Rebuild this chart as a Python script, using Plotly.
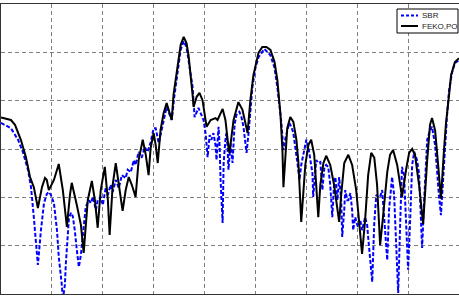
import plotly.graph_objects as go

# FEKO,PO (black solid): angle (deg), level (dB)
feko_theta = [0, 3.9, 5.5, 7.8, 9.8, 11.4, 12.9, 14.5, 16.1, 17.3, 18.0, 18.8, 20.8, 22.7, 24.3, 25.9, 27.1, 27.8,
              29.8, 31.4, 32.5, 34.1, 35.7, 36.9, 38.0, 39.2, 40.8, 42.0, 42.7, 43.9, 45.1, 46.7, 47.8, 49.0, 50.2,
              51.4, 52.9, 54.1, 55.7, 56.9, 58.0, 58.8, 60.0, 60.8, 61.6, 62.7, 63.9, 65.1, 65.9, 67.1, 67.8, 68.6,
              69.8, 70.6, 71.8, 72.9, 73.7, 74.5, 75.3, 75.7, 76.9, 78.0, 79.2, 80.8, 82.4, 84.3, 85.1, 87.1, 88.2,
              89.4, 89.8, 91.4, 93.3, 94.9, 96.9, 98.0, 99.2, 101.2, 102.7, 104.3, 105.9, 107.5, 108.6, 109.8,
              110.6, 111.0, 111.8, 112.5, 113.7, 114.9, 116.1, 116.9, 118.0, 118.8, 119.6, 120.8, 121.9, 123.1,
              123.9, 124.7, 125.5, 126.7, 127.8, 129.4, 130.9, 132.2, 132.9, 133.7, 134.9, 136.5, 138.0, 139.6,
              140.8, 141.9, 143.1, 144.3, 145.5, 146.7, 147.8, 149.0, 150.2, 151.8, 152.9, 154.1, 155.7, 157.6,
              159.2, 160.4, 161.6, 162.7, 164.3, 165.9, 167.5, 168.6, 169.4, 170.6, 171.8, 172.9, 174.1, 174.9,
              176.1, 176.9, 178.4, 180]
feko_db = [-13.5, -14.0, -15.0, -18.1, -21.7, -25.8, -27.9, -32.2, -27.9, -26.0, -26.4, -28.5, -26.4, -23.1, -28.5,
           -36.1, -29.5, -27.0, -31.6, -35.7, -41.5, -30.6, -26.6, -30.6, -36.3, -28.5, -23.7, -30.6, -37.8, -27.4,
           -22.9, -28.5, -32.8, -28.5, -25.8, -27.4, -29.9, -22.3, -18.1, -21.2, -25.4, -19.8, -16.7, -19.2, -22.9,
           -16.1, -12.6, -10.5, -11.9, -14.0, -8.8, -5.7, -1.2, 1.5, 3.2, 1.9, -0.6, -4.3, -8.8, -11.3, -9.2, -8.4,
           -9.9, -15.4, -14.0, -13.6, -14.0, -11.7, -14.0, -19.6, -20.8, -14.0, -10.3, -11.9, -16.7, -9.9, -4.7,
           -0.1, 1.1, 1.1, 0.5, -2.0, -5.7, -12.6, -20.2, -27.9, -20.2, -15.7, -13.4, -14.4, -18.1, -22.9, -35.1,
           -28.5, -23.3, -19.2, -18.1, -21.2, -27.4, -34.1, -27.4, -22.9, -21.4, -23.3, -27.4, -32.6, -35.1, -29.5,
           -22.9, -21.2, -23.3, -28.5, -35.7, -41.7, -34.7, -25.4, -20.8, -21.8, -27.4, -39.9, -33.7, -24.8, -21.2,
           -20.2, -23.3, -29.9, -24.3, -20.8, -20.0, -21.2, -27.4, -35.5, -22.3, -15.0, -13.6, -16.1, -23.3, -30.3,
           -20.2, -14.6, -8.8, -4.7, -2.0, -1.2]

# SBR (blue dashed)
sbr_theta = [0, 3.9, 6.7, 8.6, 10.6, 11.8, 12.9, 13.7, 14.5, 15.7, 16.9, 18.0, 18.8, 19.6, 20.8, 22.0, 22.7, 23.9,
             24.3, 25.1, 25.5, 26.7, 27.5, 28.2, 29.0, 29.8, 30.6, 31.4, 32.2, 33.3, 34.5, 35.3, 36.1, 37.3, 38.0,
             39.2, 40.0, 41.2, 42.0, 43.1, 43.9, 45.1, 46.3, 47.5, 49.0, 49.8, 51.0, 52.2, 52.9, 54.1, 55.3, 56.5,
             57.6, 58.8, 60.0, 60.8, 62.0, 62.7, 63.9, 65.1, 65.9, 67.1, 68.2, 69.4, 70.6, 71.8, 72.9, 73.7, 74.5,
             75.3, 76.1, 76.9, 77.6, 78.8, 79.6, 80.4, 81.2, 82.0, 82.7, 83.5, 84.3, 84.7, 85.5, 85.9, 86.3, 87.1,
             87.5, 88.2, 88.6, 89.0, 89.4, 90.2, 91.0, 91.8, 92.5, 93.7, 94.5, 95.3, 96.5, 97.3, 98.0, 98.8, 100.0,
             101.2, 103.5, 105.9, 107.5, 108.6, 110.2, 111.0, 111.8, 112.5, 113.3, 114.1, 114.9, 116.5, 117.3,
             118.0, 118.8, 120.0, 120.8, 121.6, 122.4, 122.7, 123.5, 123.9, 124.7, 125.5, 126.3, 127.1, 127.8,
             128.6, 129.4, 130.2, 130.9, 131.4, 132.2, 132.9, 133.7, 134.1, 134.9, 135.3, 136.1, 136.5, 137.3,
             138.0, 138.4, 139.2, 140.0, 140.4, 141.2, 141.9, 143.1, 143.9, 144.3, 145.1, 145.9, 146.7, 147.5,
             148.2, 149.0, 149.8, 151.0, 151.8, 152.5, 153.7, 154.5, 155.3, 156.1, 156.9, 157.6, 158.4, 159.2,
             160.0, 160.8, 161.6, 162.4, 163.5, 164.3, 165.1, 165.5, 166.3, 167.5, 168.6, 169.4, 170.6, 171.3,
             172.1, 172.9, 173.7, 174.1, 175.3, 176.1, 177.3, 178.4, 180]
sbr_db = [-14.6, -15.7, -18.1, -20.6, -24.3, -27.9, -34.1, -39.9, -44.0, -36.8, -31.2, -29.3, -28.9, -29.5, -31.2,
          -36.8, -42.3, -48.1, -51.2, -48.1, -43.6, -34.3, -33.2, -33.9, -36.8, -40.9, -44.4, -41.9, -38.2, -32.0,
          -30.6, -31.2, -29.9, -32.6, -30.6, -29.9, -31.6, -27.9, -29.5, -27.4, -28.9, -26.4, -28.1, -25.4, -26.0,
          -24.3, -24.8, -22.3, -23.3, -20.6, -21.8, -19.6, -20.6, -18.6, -15.7, -15.7, -18.8, -17.1, -13.6, -11.3,
          -12.4, -14.0, -8.8, -3.7, 0.5, 2.3, 1.1, -1.6, -4.1, -7.2, -13.4, -12.3, -11.5, -13.0, -14.0, -16.7,
          -21.7, -17.1, -18.1, -16.7, -19.2, -22.3, -15.4, -19.2, -26.4, -35.3, -22.9, -18.1, -16.7, -19.2, -24.3,
          -18.8, -22.9, -15.0, -13.0, -12.3, -13.4, -15.4, -20.8, -16.7, -11.9, -7.2, -3.2, -1.0, 0.7, -0.6, -3.2,
          -7.2, -14.6, -20.2, -17.7, -16.1, -14.6, -15.4, -16.7, -22.9, -26.4, -23.3, -21.2, -18.1, -19.6, -22.3,
          -25.0, -29.9, -24.5, -22.3, -22.9, -22.7, -28.5, -23.7, -23.3, -23.7, -27.4, -34.1, -27.4, -25.8, -30.6,
          -25.8, -30.6, -38.2, -32.6, -28.5, -30.6, -30.6, -29.1, -32.6, -36.8, -34.1, -35.7, -36.1, -34.7, -36.8,
          -34.1, -35.7, -38.2, -43.0, -47.5, -35.3, -29.5, -29.9, -29.9, -28.5, -36.8, -43.0, -32.6, -25.8, -29.5,
          -38.8, -49.8, -35.1, -23.7, -25.4, -34.7, -45.0, -34.7, -23.3, -20.6, -22.3, -25.0, -33.7, -40.5, -30.6,
          -18.1, -16.1, -15.4, -19.2, -25.0, -29.5, -33.7, -26.4, -21.7, -13.0, -7.8, -4.1, -2.2, -1.6]

series_names = ["SBR", "FEKO,PO"]
series_colors = ["#0000ff", "#000000"]
series_dash = ["4px,2px", "solid"]

fig = go.Figure()
fig.add_trace(go.Scatter(x=sbr_theta, y=sbr_db, mode="lines", name=series_names[0], showlegend=False,
                         line=dict(color=series_colors[0], width=2, dash=series_dash[0])))
fig.add_trace(go.Scatter(x=feko_theta, y=feko_db, mode="lines", name=series_names[1], showlegend=False,
                         line=dict(color=series_colors[1], width=2, dash=series_dash[1])))

axis_common = dict(showgrid=True, gridcolor="#808080", griddash="4px,3px", gridwidth=1,
                   showline=True, linecolor="#333333", linewidth=1, mirror=True,
                   zeroline=False, showticklabels=False, ticks="")
fig.update_xaxes(range=[0, 180], dtick=20, tick0=0, **axis_common)
fig.update_yaxes(range=[-50, 10], dtick=10, tick0=-50, **axis_common)

# compact legend box (paper coordinates)
W, H, L, T = 458.0, 290.0, 1.0, 4.0
def px(x):
    return (x - L) / W
def py(y):
    return 1 - (y - T) / H

shapes = [dict(type="rect", xref="paper", yref="paper", x0=px(397), x1=px(458), y0=py(33), y1=py(9),
               fillcolor="white", line=dict(color="#000000", width=1), layer="above")]
annotations = []
for i, (nm, col, dsh) in enumerate(zip(series_names, series_colors, series_dash)):
    yy = 15.5 + i * 10.5
    shapes.append(dict(type="line", xref="paper", yref="paper", x0=px(401), x1=px(418), y0=py(yy), y1=py(yy),
                       line=dict(color=col, width=2, dash=("3px,2px" if dsh != "solid" else "solid")),
                       layer="above"))
    annotations.append(dict(xref="paper", yref="paper", x=px(419.5), y=py(yy), text=nm, showarrow=False,
                            xanchor="left", yanchor="middle",
                            font=dict(family="Liberation Sans, Arial", size=8, color="#222222")))

fig.update_layout(
    width=459, height=296,
    margin=dict(l=1, r=0, t=4, b=2),
    paper_bgcolor="white", plot_bgcolor="white",
    showlegend=False,
    shapes=shapes, annotations=annotations,
)
fig.write_html("out.html")
